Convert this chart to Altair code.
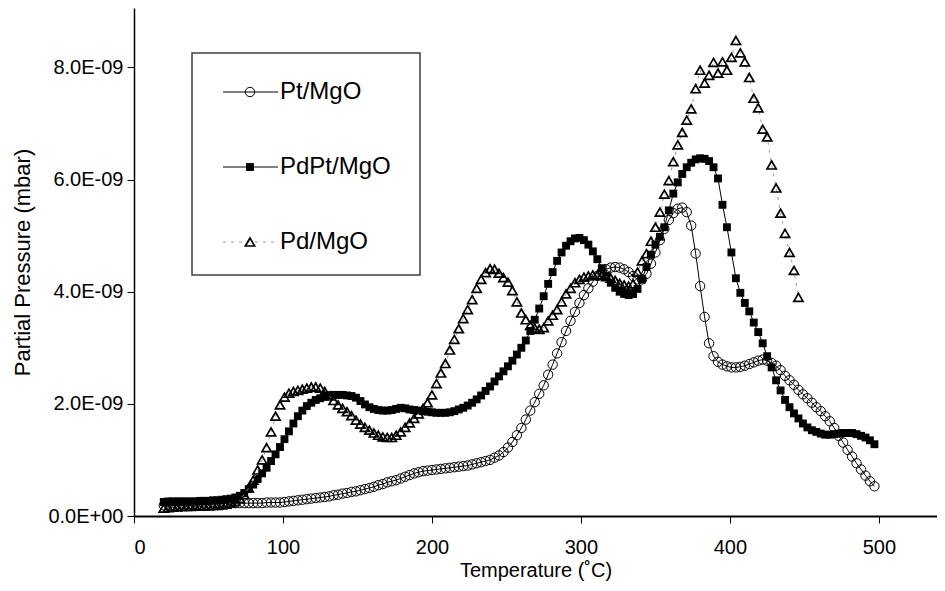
import altair as alt
import pandas as pd

# Temperature grid (deg C)
temps = [20, 23, 26, 29, 32, 35, 38, 41, 44, 47,
         50, 53, 56, 59, 62, 65, 68, 71, 74, 77,
         80, 83, 86, 89, 92, 95, 98, 101, 104, 107,
         110, 113, 116, 119, 122, 125, 128, 131, 134, 137,
         140, 143, 146, 149, 152, 155, 158, 161, 164, 167,
         170, 173, 176, 179, 182, 185, 188, 191, 194, 197,
         200, 203, 206, 209, 212, 215, 218, 221, 224, 227,
         230, 233, 236, 239, 242, 245, 248, 251, 254, 257,
         260, 263, 266, 269, 272, 275, 278, 281, 284, 287,
         290, 293, 296, 299, 302, 305, 308, 311, 314, 317,
         320, 323, 326, 329, 332, 335, 338, 341, 344, 347,
         350, 353, 356, 359, 362, 365, 368, 371, 374, 377,
         380, 383, 386, 389, 392, 395, 398, 401, 404, 407,
         410, 413, 416, 419, 422, 425, 428, 431, 434, 437,
         440, 443, 446, 449, 452, 455, 458, 461, 464, 467,
         470, 473, 476, 479, 482, 485, 488, 491, 494, 497]

# Partial pressure in units of 1E-09 mbar
pt_mgo = [0.19, 0.20, 0.20, 0.20, 0.21, 0.21, 0.21, 0.21, 0.22, 0.22,
          0.22, 0.22, 0.22, 0.22, 0.23, 0.23, 0.23, 0.23, 0.23, 0.23,
          0.23, 0.23, 0.23, 0.24, 0.24, 0.24, 0.24, 0.25, 0.26, 0.27,
          0.28, 0.29, 0.30, 0.31, 0.32, 0.33, 0.34, 0.35, 0.37, 0.38,
          0.40, 0.41, 0.43, 0.44, 0.46, 0.48, 0.50, 0.52, 0.55, 0.57,
          0.60, 0.62, 0.64, 0.67, 0.70, 0.73, 0.76, 0.78, 0.80, 0.81,
          0.82, 0.83, 0.84, 0.85, 0.86, 0.87, 0.88, 0.89, 0.90, 0.92,
          0.94, 0.96, 0.98, 1.00, 1.04, 1.08, 1.14, 1.22, 1.32, 1.44,
          1.57, 1.72, 1.88, 2.03, 2.18, 2.33, 2.52, 2.70, 2.90, 3.10,
          3.30, 3.48, 3.64, 3.80, 3.94, 4.06, 4.18, 4.28, 4.35, 4.40,
          4.43, 4.44, 4.43, 4.40, 4.35, 4.28, 4.22, 4.22, 4.32, 4.50,
          4.70, 4.92, 5.12, 5.28, 5.40, 5.48, 5.50, 5.42, 5.18, 4.68,
          4.10, 3.55, 3.08, 2.85, 2.75, 2.70, 2.67, 2.65, 2.65, 2.66,
          2.68, 2.71, 2.74, 2.77, 2.79, 2.77, 2.73, 2.68, 2.60, 2.50,
          2.42, 2.34, 2.25, 2.17, 2.10, 2.02, 1.94, 1.87, 1.78, 1.69,
          1.57, 1.43, 1.31, 1.18, 1.06, 0.94, 0.83, 0.72, 0.62, 0.53]

pdpt_mgo = [0.25, 0.26, 0.26, 0.26, 0.26, 0.26, 0.26, 0.26, 0.27, 0.27,
            0.27, 0.28, 0.28, 0.29, 0.30, 0.31, 0.33, 0.36, 0.41, 0.48,
            0.56, 0.66, 0.76, 0.86, 0.98, 1.10, 1.23, 1.37, 1.51, 1.65,
            1.78, 1.88, 1.96, 2.02, 2.07, 2.10, 2.13, 2.15, 2.16, 2.16,
            2.16, 2.15, 2.14, 2.11, 2.05, 1.99, 1.94, 1.91, 1.89, 1.88,
            1.88, 1.89, 1.91, 1.93, 1.92, 1.90, 1.89, 1.88, 1.87, 1.86,
            1.85, 1.84, 1.84, 1.84, 1.85, 1.87, 1.90, 1.93, 1.97, 2.02,
            2.08, 2.15, 2.23, 2.31, 2.40, 2.49, 2.58, 2.67, 2.77, 2.88,
            3.00, 3.13, 3.30, 3.50, 3.70, 3.92, 4.14, 4.35, 4.55, 4.70,
            4.82, 4.90, 4.95, 4.96, 4.92, 4.84, 4.72, 4.58, 4.42, 4.28,
            4.16, 4.07, 4.00, 3.96, 3.94, 3.96, 4.05, 4.22, 4.44, 4.66,
            4.84, 4.98, 5.15, 5.45, 5.75, 5.95, 6.10, 6.22, 6.30, 6.36,
            6.38, 6.37, 6.33, 6.22, 6.02, 5.55, 5.15, 4.70, 4.24, 3.98,
            3.80, 3.65, 3.45, 3.28, 3.08, 2.85, 2.65, 2.42, 2.24, 2.07,
            1.94, 1.83, 1.74, 1.65, 1.58, 1.53, 1.50, 1.47, 1.45, 1.45,
            1.46, 1.47, 1.48, 1.48, 1.48, 1.46, 1.43, 1.40, 1.35, 1.28]

pd_mgo = [0.14, 0.15, 0.16, 0.16, 0.17, 0.17, 0.17, 0.18, 0.18, 0.18,
          0.18, 0.19, 0.19, 0.20, 0.21, 0.23, 0.26, 0.31, 0.38, 0.50,
          0.64, 0.82, 1.00, 1.22, 1.50, 1.78, 1.98, 2.12, 2.19, 2.22,
          2.24, 2.26, 2.28, 2.30, 2.30, 2.28, 2.22, 2.14, 2.06, 1.98,
          1.92, 1.86, 1.79, 1.71, 1.64, 1.58, 1.53, 1.48, 1.44, 1.41,
          1.40, 1.40, 1.44, 1.50, 1.58, 1.66, 1.74, 1.82, 1.92, 2.02,
          2.16, 2.36, 2.55, 2.72, 2.96, 3.15, 3.34, 3.52, 3.68, 3.86,
          4.06, 4.22, 4.34, 4.41, 4.40, 4.33, 4.25, 4.17, 4.02, 3.82,
          3.62, 3.50, 3.40, 3.35, 3.33, 3.36, 3.48, 3.58, 3.68, 3.82,
          3.96, 4.06, 4.16, 4.22, 4.26, 4.28, 4.30, 4.30, 4.29, 4.27,
          4.24, 4.20, 4.15, 4.12, 4.10, 4.14, 4.35, 4.55, 4.68, 4.90,
          5.15, 5.42, 5.74, 5.98, 6.32, 6.62, 6.84, 7.06, 7.26, 7.62,
          7.95, 7.72, 7.86, 8.09, 7.90, 8.10, 7.95, 8.18, 8.48, 8.26,
          8.10, 7.82, 7.45, 7.28, 6.90, 6.76, 6.26, 5.85, 5.40, 5.04,
          4.70, 4.38, 3.90]

series_names = ["Pt/MgO", "PdPt/MgO", "Pd/MgO"]
tick_x = [0, 100, 200, 300, 400, 500]
tick_y = [0, 2e-9, 4e-9, 6e-9, 8e-9]

rows = []
for name, vals in zip(series_names, [pt_mgo, pdpt_mgo, pd_mgo]):
    for i, v in enumerate(vals):
        rows.append({"series": name, "T": temps[i], "P": v * 1e-9, "i": i})
df = pd.DataFrame(rows)

FONT = "Liberation Sans, Arial, Helvetica, sans-serif"

x_enc = alt.X("T:Q",
              scale=alt.Scale(domain=[0, 539], nice=False, zero=False),
              axis=alt.Axis(values=tick_x, title="Temperature (˚C)", grid=False,
                            format="d", labelPadding=14, titlePadding=3,
                            titleFontSize=20, domainWidth=2))
y_enc = alt.Y("P:Q",
              scale=alt.Scale(domain=[0, 9.06e-9], nice=False),
              axis=alt.Axis(values=tick_y, title="Partial Pressure (mbar)", grid=False,
                            labelExpr="datum.value == 0 ? '0.0E+00' : format(datum.value * 1e9, '.1f') + 'E-09'",
                            labelPadding=4, titlePadding=13, titleFontSize=22,
                            domainWidth=1.5))

base = alt.Chart(df)

def sub(name):
    return base.transform_filter(alt.datum.series == name)

CIRC = dict(shape="circle", filled=False, color="black", size=88, strokeWidth=1, opacity=1)
SQR = dict(shape="square", filled=True, color="black", size=62, opacity=1)
TRI = dict(shape="triangle-up", filled=False, color="black", size=85, strokeWidth=1.7, opacity=1)
PD_LINE = dict(color="#9a9a9a", strokeWidth=1, strokeDash=[3, 5])

pt_line = sub("Pt/MgO").mark_line(color="black", strokeWidth=1).encode(x=x_enc, y=y_enc, order="i:Q")
pt_pts = sub("Pt/MgO").mark_point(**CIRC).encode(x=x_enc, y=y_enc)
pdpt_line = sub("PdPt/MgO").mark_line(color="black", strokeWidth=1).encode(x=x_enc, y=y_enc, order="i:Q")
pdpt_pts = sub("PdPt/MgO").mark_point(**SQR).encode(x=x_enc, y=y_enc)
pd_line = sub("Pd/MgO").mark_line(**PD_LINE).encode(x=x_enc, y=y_enc, order="i:Q")
pd_pts = sub("Pd/MgO").mark_point(**TRI).encode(x=x_enc, y=y_enc)

# Legend box (pixel positions inside the plot area, whose top is at page y = 8)
one = pd.DataFrame({"k": [0]})
leg = alt.Chart(one)
leg_box = leg.mark_rect(fill="white", stroke="#404040", strokeWidth=1.5).encode(
    x=alt.value(58), x2=alt.value(286), y=alt.value(45), y2=alt.value(267))
row_y = [84, 159, 234]
leg_layers = []
leg_layers.append(leg.mark_rule(color="black", strokeWidth=1).encode(
    x=alt.value(89), x2=alt.value(144), y=alt.value(row_y[0])))
leg_layers.append(leg.mark_rule(color="black", strokeWidth=1).encode(
    x=alt.value(89), x2=alt.value(144), y=alt.value(row_y[1])))
leg_layers.append(leg.mark_rule(**PD_LINE).encode(
    x=alt.value(89), x2=alt.value(144), y=alt.value(row_y[2])))
leg_layers.append(leg.mark_point(**CIRC).encode(x=alt.value(116), y=alt.value(row_y[0])))
leg_layers.append(leg.mark_point(**SQR).encode(x=alt.value(116), y=alt.value(row_y[1])))
leg_layers.append(leg.mark_point(**TRI).encode(x=alt.value(116), y=alt.value(row_y[2])))
for name, yy in zip(series_names, row_y):
    leg_layers.append(leg.mark_text(align="left", baseline="middle", fontSize=24, font=FONT,
                                    color="black", text=name).encode(x=alt.value(146), y=alt.value(yy)))

chart = alt.layer(
    leg_box, pt_line, pt_pts, pdpt_line, pdpt_pts, pd_line, pd_pts, *leg_layers
).properties(
    width=803, height=508,
    padding={"left": 126, "top": 0, "right": 0, "bottom": 67},
    autosize=alt.AutoSizeParams(type="none"),
    background="white",
).configure_view(
    stroke=None
).configure_axis(
    labelFont=FONT, titleFont=FONT, labelFontSize=20, titleFontSize=20,
    titleFontWeight="normal", labelColor="black", titleColor="black",
    domainColor="black", tickColor="black", tickSize=7, tickWidth=1,
)

chart.save("out.html", embed_options={"renderer": "svg", "actions": False})
